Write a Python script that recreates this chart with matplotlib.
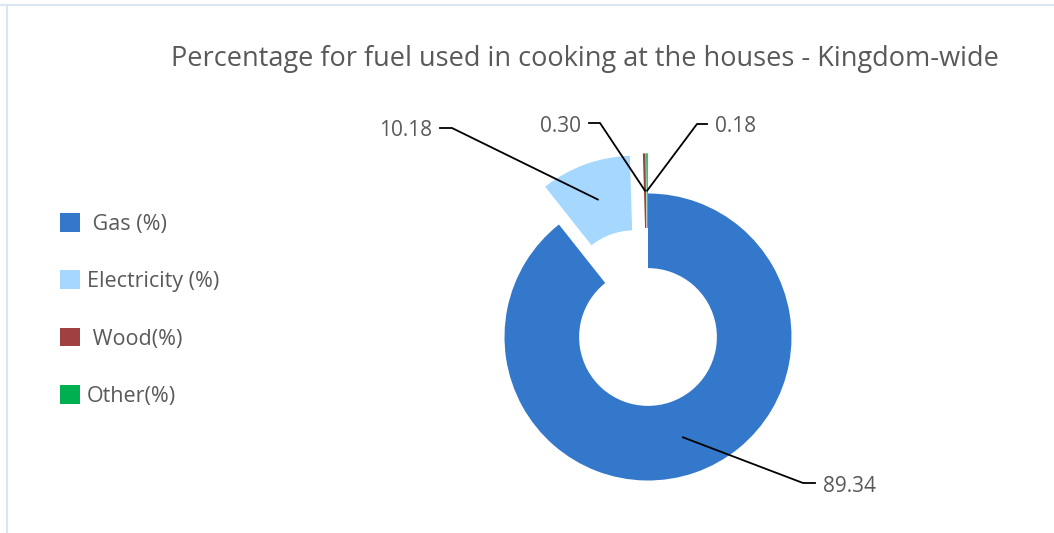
import math
import matplotlib
matplotlib.use("Agg")
from matplotlib import pyplot as plt
from matplotlib.lines import Line2D

fuels = [' Gas (%)', 'Electricity (%)', ' Wood(%)', 'Other(%)']
shares = [89.34, 10.18, 0.30, 0.18]
value_labels = ['89.34', '10.18', '0.30', '0.18']
colors = ['#3378cb', '#a6d8ff', '#a04040', '#00b050']

plt.rcParams['font.family'] = ['Open Sans', 'DejaVu Sans']
text_color = '#595959'

W, H = 1054, 533
CX, CY, R = 648, 337, 143.5


def px(x, y):
    # pixel position (top-left origin) -> data units, pie radius = 1
    return (x - CX) / R, (CY - y) / R


fig = plt.figure(figsize=(W / 100, H / 100), dpi=100)
ax = fig.add_axes([0, 0, 1, 1])

wedges, _ = ax.pie(shares, colors=colors, startangle=90, counterclock=False,
                   explode=[0, 0.28, 0.28, 0.28], radius=1,
                   wedgeprops=dict(width=0.52, linewidth=0))
ax.set_xlim(-CX / R, (W - CX) / R)
ax.set_ylim(-(H - CY) / R, CY / R)
ax.axis('off')

# label lines: elbow, end of line, text anchor (pixels), alignment
label_layout = [
    ((803, 483), (815, 483), (823, 486), 'left'),
    ((452, 128), (440, 128), (432, 130), 'right'),
    ((600, 123), (589, 123), (581, 126), 'right'),
    ((697, 124), (707, 124), (715, 126), 'left'),
]
for w, txt, (elbow, end, tpos, ha) in zip(wedges, value_labels, label_layout):
    tm = math.radians((w.theta1 + w.theta2) / 2)
    cx, cy = w.center
    ax0 = cx + 0.74 * math.cos(tm)
    ay0 = cy + 0.74 * math.sin(tm)
    ex, ey = px(*elbow)
    fx, fy = px(*end)
    ax.plot([ax0, ex, fx], [ay0, ey, fy], color='black', lw=1.3,
            solid_joinstyle='miter')
    tx, ty = px(*tpos)
    ax.text(tx, ty, txt, ha=ha, va='center', fontsize=15, color=text_color)

ax.legend(wedges, fuels, loc='upper left', bbox_to_anchor=(60 / W, 1 - 213 / H),
          frameon=False, fontsize=15.5, handlelength=0.95, handleheight=0.95,
          handletextpad=0.3, labelspacing=1.66, labelcolor=text_color,
          borderpad=0, borderaxespad=0)

fig.text(0.5546, 0.89, 'Percentage for fuel used in cooking at the houses - Kingdom-wide',
         ha='center', va='center', fontsize=19.5, color=text_color)

# light frame on top and left
fig.add_artist(Line2D([0, 1], [1 - 5 / H, 1 - 5 / H], color='#dce6f2', lw=1.5))
fig.add_artist(Line2D([7 / W, 7 / W], [0, 1 - 5 / H], color='#dce6f2', lw=1.5))

fig.savefig('out.png', dpi=100)
